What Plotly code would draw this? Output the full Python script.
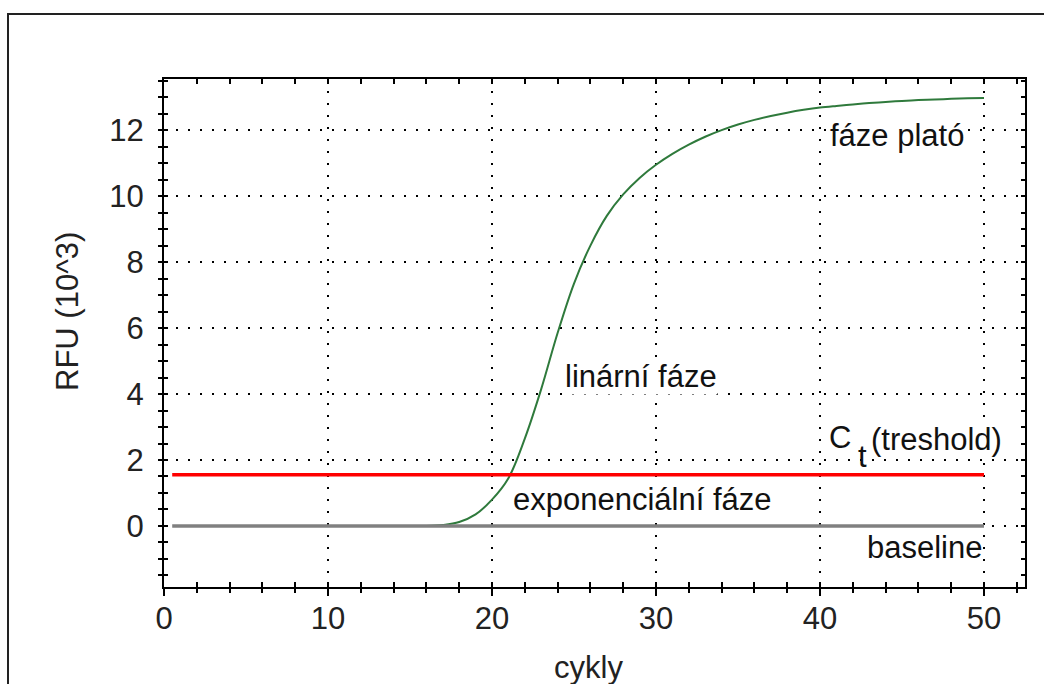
import plotly.graph_objects as go

# ---- data ----
cycles = list(range(1, 51))
rfu = [0, 0, 0, 0, 0, 0, 0, 0, 0, 0, 0, 0, 0, 0, 0, 0,
       0.03, 0.12, 0.35, 0.8, 1.45, 2.65, 4.15, 5.85, 7.35, 8.5, 9.4, 10.05, 10.55, 10.95,
       11.28, 11.56, 11.8, 12.0, 12.17, 12.31, 12.43, 12.53, 12.615, 12.685,
       12.735, 12.78, 12.82, 12.855, 12.885, 12.91, 12.93, 12.948, 12.963, 12.975]
threshold_x = [0.5, 50]
threshold_y = [1.55, 1.55]
baseline_x = [0.5, 50]
baseline_y = [0, 0]
x_ticks = [0, 10, 20, 30, 40, 50]
y_ticks = [0, 2, 4, 6, 8, 10, 12]

FONT = "Arial, Liberation Sans, sans-serif"
FS = 31

fig = go.Figure()
fig.add_trace(go.Scatter(x=cycles, y=rfu, mode="lines",
                         line=dict(color="#2f7a3c", width=2, shape="spline", smoothing=1.0),
                         showlegend=False, hoverinfo="skip"))
fig.add_trace(go.Scatter(x=baseline_x, y=baseline_y, mode="lines",
                         line=dict(color="#808080", width=3.5),
                         showlegend=False, hoverinfo="skip"))
fig.add_trace(go.Scatter(x=threshold_x, y=threshold_y, mode="lines",
                         line=dict(color="#ff0000", width=3.5),
                         showlegend=False, hoverinfo="skip"))
# dummy trace for overlay axes (outside tick marks)
fig.add_trace(go.Scatter(x=[None], y=[None], xaxis="x2", yaxis="y2",
                         showlegend=False, hoverinfo="skip"))

XR = [0, 52.5]
YR = [-1.85, 13.55]

fig.update_layout(
    width=1044, height=684,
    margin=dict(l=164, r=19, t=79, b=97),
    paper_bgcolor="white", plot_bgcolor="white",
    font=dict(family=FONT, size=FS, color="#111"),
    xaxis=dict(range=XR, tickvals=x_ticks, ticks="inside", ticklen=5, tickwidth=2,
               tickcolor="black", mirror="allticks", showline=True, linewidth=2,
               linecolor="black", showgrid=True, gridcolor="black", gridwidth=1.5,
               griddash="2px,10px", zeroline=False,
               minor=dict(dtick=2, tick0=0, ticks="inside", ticklen=5, tickwidth=2,
                          tickcolor="black", showgrid=False),
               tickfont=dict(size=FS, color="#222"), ticklabelstandoff=3),
    yaxis=dict(range=YR, tickvals=y_ticks, ticks="inside", ticklen=4, tickwidth=2,
               tickcolor="black", mirror="allticks", showline=True, linewidth=2,
               linecolor="black", showgrid=True, gridcolor="black", gridwidth=1.5,
               griddash="2px,10px", zeroline=False,
               minor=dict(dtick=0.5, tick0=0, ticks="inside", ticklen=4, tickwidth=2,
                          tickcolor="black", showgrid=False),
               tickfont=dict(size=FS, color="#222"), ticklabelstandoff=12),
    xaxis2=dict(range=XR, overlaying="x", side="bottom", anchor="y", tickvals=x_ticks,
                ticks="outside", ticklen=8, tickwidth=2, tickcolor="black",
                showticklabels=False, showline=False, showgrid=False, zeroline=False,
                minor=dict(dtick=2, tick0=0, ticks="outside", ticklen=5, tickwidth=2,
                           tickcolor="black", showgrid=False)),
    yaxis2=dict(range=YR, overlaying="y", side="left", anchor="x", tickvals=y_ticks,
                ticks="outside", ticklen=5, tickwidth=2, tickcolor="black",
                showticklabels=False, showline=False, showgrid=False, zeroline=False,
                minor=dict(dtick=0.5, tick0=0, ticks="outside", ticklen=5, tickwidth=2,
                           tickcolor="black", showgrid=False)),
)

# outer frame
fig.add_shape(type="rect", xref="paper", yref="paper",
              x0=(8 - 164) / 861, x1=1.2, y0=-0.3, y1=(587 - 14) / 508,
              line=dict(color="#222", width=2), layer="below")

def label(text, x, y, bg="white"):
    fig.add_annotation(text=text, x=x, y=y, xref="x", yref="y", showarrow=False,
                       xanchor="center", yanchor="middle",
                       font=dict(family=FONT, size=FS, color="#111"),
                       bgcolor=bg, borderpad=0)

label("fáze plató", 44.7, 11.85)
label("linární fáze", 29.1, 4.52)
label("exponenciální fáze", 29.15, 0.79)
label("baseline", 46.4, -0.64)
label("C", 41.2, 2.67)
label("t", 42.6, 2.12, bg="rgba(0,0,0,0)")
label("(treshold)", 47.1, 2.62)

# axis titles
fig.add_annotation(text="RFU (10^3)", x=(67 - 164) / 861, y=(587 - 312) / 508,
                   xref="paper", yref="paper", showarrow=False, textangle=-90,
                   xanchor="center", yanchor="middle",
                   font=dict(family=FONT, size=FS, color="#222"))
fig.add_annotation(text="cykly", x=(588 - 164) / 861, y=(587 - 667) / 508,
                   xref="paper", yref="paper", showarrow=False,
                   xanchor="center", yanchor="middle",
                   font=dict(family=FONT, size=FS, color="#222"))

fig.write_html("out.html")
